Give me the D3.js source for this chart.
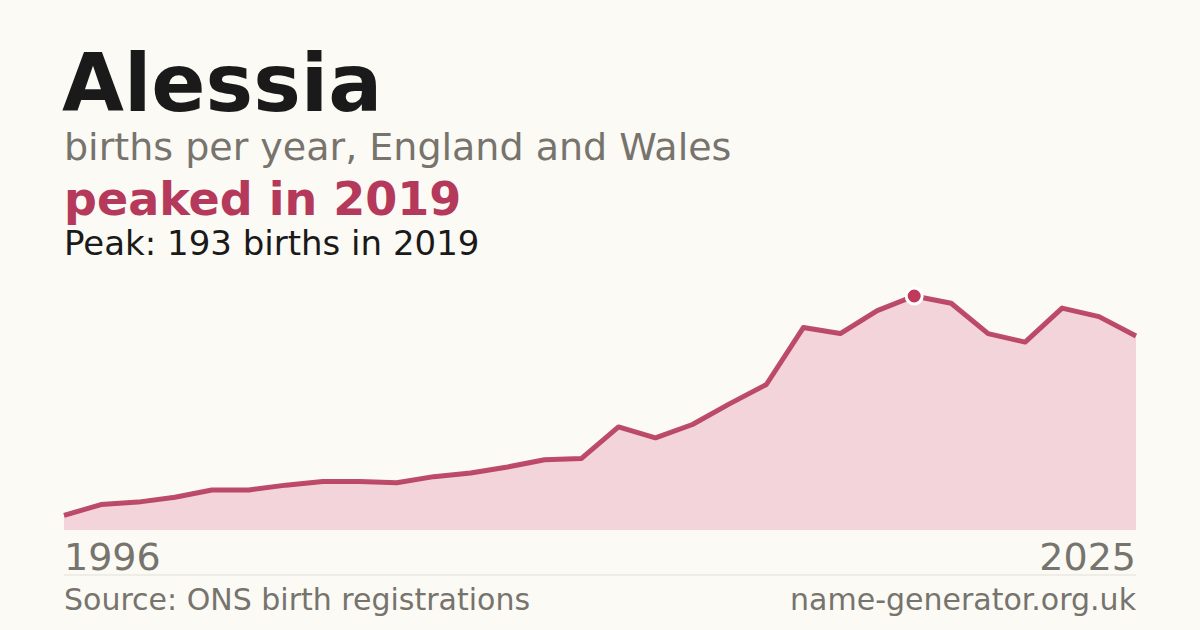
<!DOCTYPE html>
<html><head><meta charset="utf-8">
<script src="https://cdn.jsdelivr.net/npm/d3@7"></script>
<style>body{margin:0;background:#fbfaf5}svg{display:block}</style>
</head><body><svg id="c" width="1200" height="630"></svg>
<script>
const years = d3.range(1996, 2026);
const births = [12,21,23,27,33,33,37,40,40,39,44,47,52,58,59,85,76,87,104,120,167,162,181,193,187,162,155,183,176,160];
const peakYear = 2019, peakValue = 193;

const svg = d3.select("#c");
const font = "DejaVu Sans, sans-serif";
svg.append("rect").attr("width", 1200).attr("height", 630).attr("fill", "#fbfaf5");

const x = d3.scaleLinear().domain([1996, 2025]).range([64, 1136]);
const y = d3.scaleLinear().domain([0, peakValue]).range([530, 296]);
const data = years.map((yr, i) => ({ yr, v: births[i] }));

svg.append("path").datum(data)
  .attr("d", d3.area().x(d => x(d.yr)).y0(y(0)).y1(d => y(d.v)))
  .attr("fill", "#f2d4da");
svg.append("path").datum(data)
  .attr("d", d3.line().x(d => x(d.yr)).y(d => y(d.v)))
  .attr("fill", "none").attr("stroke", "#b5395a").attr("stroke-width", 5)
  .attr("stroke-linejoin", "round").attr("stroke-opacity", 0.9);
svg.append("circle").attr("cx", x(peakYear)).attr("cy", y(peakValue)).attr("r", 8)
  .attr("fill", "#c0395a").attr("stroke", "#fff").attr("stroke-width", 3);

const text = (t, px, py, size, fill, weight, anchor) =>
  svg.append("text").attr("x", px).attr("y", py).attr("font-family", font)
    .attr("font-size", size).attr("fill", fill).attr("font-weight", weight || "normal")
    .attr("text-anchor", anchor || "start").text(t);

text("Alessia", 62, 111, 80, "#1a1a1a", "bold");
text("births per year, England and Wales", 64, 160, 38, "#77736d");
text("peaked in 2019", 64, 215, 46, "#b5395a", "bold");
text("Peak: 193 births in 2019", 64, 255, 34, "#1a1a1a");
text("1996", 64, 570, 38, "#77736d");
text("2025", 1136, 570, 38, "#77736d", "normal", "end");
svg.append("line").attr("x1", 64).attr("x2", 1136).attr("y1", 575).attr("y2", 575)
  .attr("stroke", "#e2dfd8").attr("stroke-width", 1);
text("Source: ONS birth registrations", 64, 610, 30, "#77736d");
text("name-generator.org.uk", 1136, 610, 30, "#77736d", "normal", "end");
</script></body></html>
